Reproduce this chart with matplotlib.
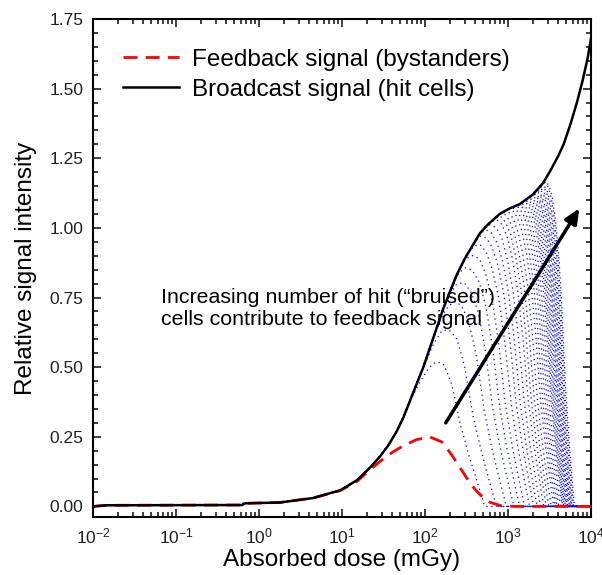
import numpy as np
import matplotlib
matplotlib.use('Agg')
import matplotlib.pyplot as plt
from matplotlib.ticker import MultipleLocator, LogLocator, FuncFormatter, NullFormatter

plt.rcParams['font.family'] = ['Liberation Sans', 'DejaVu Sans']
plt.rcParams['mathtext.fontset'] = 'custom'
plt.rcParams['mathtext.rm'] = 'Liberation Sans'
plt.rcParams['mathtext.default'] = 'regular'

# broadcast signal (hit cells): log10(dose) vs intensity
black_logx = [-2.0, -1.84, -0.2, -0.18, 0.25, 0.65, 0.98, 1.18, 1.34, 1.46, 1.56, 1.66,
              1.74, 1.82, 1.9, 1.98, 2.06, 2.14, 2.22, 2.3, 2.38, 2.48, 2.58, 2.66,
              2.75, 2.9, 3.02, 3.14, 3.3, 3.42, 3.5, 3.6, 3.67, 3.75, 3.83, 3.9,
              3.96, 4.0]
black_y = [0.0, 0.004, 0.005, 0.011, 0.014, 0.03, 0.058, 0.094, 0.14, 0.18, 0.22, 0.27,
           0.32, 0.38, 0.44, 0.50, 0.57, 0.64, 0.71, 0.77, 0.83, 0.89, 0.94, 0.98,
           1.01, 1.05, 1.07, 1.085, 1.12, 1.16, 1.2, 1.255, 1.30, 1.37, 1.45, 1.53,
           1.61, 1.68]

# feedback signal (bystanders)
red_logx = [-2.0, -1.84, -0.2, -0.18, 0.25, 0.65, 0.98, 1.18, 1.34, 1.46, 1.6, 1.74,
            1.9, 2.06, 2.2, 2.31, 2.42, 2.52, 2.6, 2.67, 2.78, 2.92, 3.1, 4.0]
red_y = [0.0, 0.004, 0.005, 0.011, 0.014, 0.03, 0.057, 0.09, 0.132, 0.162, 0.193, 0.218,
         0.24, 0.249, 0.232, 0.19, 0.14, 0.094, 0.062, 0.04, 0.015, 0.002, 0.0, 0.0]

# family of feedback curves from hit cells: where each one reaches zero and how wide its fall is
blue_end = [2.72, 2.86, 2.98, 3.07, 3.14, 3.2, 3.26, 3.31, 3.35, 3.39, 3.43, 3.46,
            3.49, 3.52, 3.55, 3.57, 3.59, 3.61, 3.63, 3.65, 3.66, 3.67, 3.68, 3.69,
            3.7, 3.71, 3.72, 3.73, 3.74, 3.75, 3.76, 3.77, 3.78, 3.79, 3.8]
blue_width = [1.0, 0.95, 0.9, 0.86, 0.82, 0.78, 0.75, 0.72, 0.69, 0.66, 0.63, 0.61,
              0.59, 0.57, 0.55, 0.53, 0.51, 0.5, 0.49, 0.48, 0.47, 0.46, 0.45, 0.44,
              0.43, 0.42, 0.42, 0.41, 0.41, 0.4, 0.4, 0.39, 0.39, 0.38, 0.38]
# fall-off shape of the outer curve (fraction of broadcast signal)
arch_u = [0.0, 0.1, 0.2, 0.3, 0.4, 0.5, 0.6, 0.7, 0.8, 0.9, 1.0]
arch_g = [0.0, 0.1, 0.21, 0.35, 0.56, 0.72, 0.83, 0.91, 0.96, 0.99, 1.0]

fig = plt.figure(figsize=(6.02, 5.75), dpi=100)
ax = fig.add_axes([93/602, 1 - 517/575, 498/602, 498/575])

fine = np.linspace(-2, 4, 1500)
broad_fine = np.interp(fine, black_logx, black_y)
for e, w in zip(blue_end, blue_width):
    g = np.interp((e - fine) / w, arch_u, arch_g, left=0, right=1)
    ax.plot(10**fine, broad_fine * g, color='blue', lw=0.9, ls=(0, (1, 3)), zorder=1)

ax.plot(10**np.array(red_logx), red_y, color='red', lw=2, ls=(0, (5, 3)),
        label='Feedback signal (bystanders)', zorder=3)
ax.plot(10**np.array(black_logx), black_y, color='black', lw=1.8,
        label='Broadcast signal (hit cells)', zorder=4)

ax.annotate('', xy=(10**3.86, 1.07), xytext=(10**2.25, 0.30),
            arrowprops=dict(arrowstyle='-|>,head_length=0.9,head_width=0.4', lw=2.5,
                            color='black', shrinkA=0, shrinkB=0), zorder=5)
ax.text(10**-1.184, 0.71, 'Increasing number of hit (\u201cbruised\u201d)\ncells contribute to feedback signal',
        fontsize=15.4, ha='left', va='center', linespacing=1.2)

ax.set_xscale('log')
ax.set_xlim(1e-2, 1e4)
ax.set_ylim(-0.038, 1.75)
ax.xaxis.set_major_locator(LogLocator(base=10, numticks=10))
ax.xaxis.set_minor_locator(LogLocator(base=10, subs=np.arange(2, 10), numticks=20))
ax.xaxis.set_major_formatter(FuncFormatter(lambda v, p: r'$10^{%d}$' % round(np.log10(v))))
ax.xaxis.set_minor_formatter(NullFormatter())
ax.yaxis.set_major_locator(MultipleLocator(0.25))
ax.yaxis.set_minor_locator(MultipleLocator(0.05))
ax.yaxis.set_major_formatter(FuncFormatter(lambda v, p: '%.2f' % v))

ax.tick_params(which='both', direction='in', top=True, right=True, width=1.2,
               labelsize=12.5, colors='#202020')
ax.tick_params(which='major', length=6, pad=7)
ax.tick_params(which='minor', length=3.5)
for s in ax.spines.values():
    s.set_linewidth(1.5)

ax.set_xlabel('Absorbed dose (mGy)', fontsize=17.5, labelpad=2)
ax.set_ylabel('Relative signal intensity', fontsize=17.5, labelpad=9)

ax.legend(loc='upper left', bbox_to_anchor=(0.06, 0.94), frameon=False, fontsize=17.5,
          handlelength=2.3, handletextpad=0.55, labelspacing=0.32, borderpad=0, borderaxespad=0)

fig.savefig('out.png', dpi=100)
